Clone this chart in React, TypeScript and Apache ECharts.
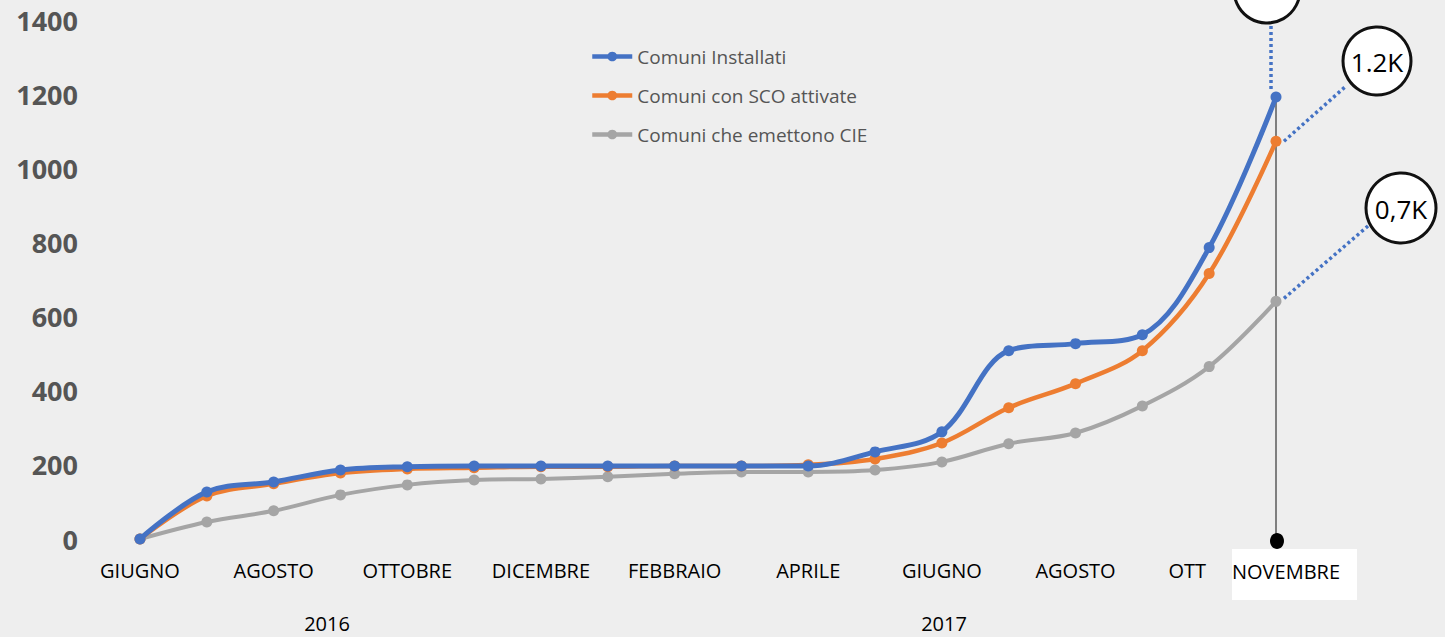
import React, { useEffect, useRef } from "react";
import * as echarts from "echarts";

const months = [
  "GIUGNO", "LUGLIO", "AGOSTO", "SETTEMBRE", "OTTOBRE", "NOVEMBRE", "DICEMBRE", "GENNAIO", "FEBBRAIO",
  "MARZO", "APRILE", "MAGGIO", "GIUGNO", "LUGLIO", "AGOSTO", "SETTEMBRE", "OTT", "NOVEMBRE",
];
const installati = [0, 127, 154, 186, 195, 197, 197, 197, 197, 197, 197, 235, 289, 508, 527, 551, 786, 1192];
const scoAttivate = [0, 116, 149, 178, 189, 192, 195, 195, 197, 197, 200, 216, 259, 354, 419, 508, 716, 1073];
const emettonoCIE = [0, 46, 76, 119, 146, 159, 162, 168, 176, 181, 181, 186, 208, 257, 286, 359, 465, 641];
const seriesNames = ["Comuni Installati", "Comuni con SCO attivate", "Comuni che emettono CIE"];
const colors = ["#4472C4", "#ED7D31", "#A5A5A5"];
const bubbleLabels = ["", "1.2K", "0,7K"];
const yearLabels = ["2016", "2017"];

export default function App() {
  const ref = useRef<HTMLDivElement>(null);
  useEffect(() => {
    document.body.style.margin = "0";
    const chart = echarts.init(ref.current!, null, { renderer: "svg" });
    const mk = (i: number, data: number[], w: number) => ({
      name: seriesNames[i],
      type: "line",
      data,
      smooth: 0.35,
      symbol: "circle",
      symbolSize: 11,
      z: 10 - i,
      lineStyle: { color: colors[i], width: w },
      itemStyle: { color: colors[i] },
    });
    const last = months.length - 1;
    chart.setOption({
      animation: false,
      backgroundColor: "#eeeeee",
      textStyle: { fontFamily: "Open Sans" },
      grid: { left: 140, right: 169, top: 20, bottom: 98 },
      legend: {
        orient: "vertical",
        left: 590,
        top: 47,
        padding: 0,
        itemGap: 20,
        itemWidth: 40,
        itemHeight: 12,
        lineStyle: { width: 4.5 },
        textStyle: { color: "#555", fontSize: 19, fontFamily: "Open Sans" },
        data: seriesNames,
      },
      xAxis: {
        type: "category",
        boundaryGap: false,
        data: months,
        axisLine: { show: false },
        axisTick: { show: false },
        axisLabel: {
          interval: (i: number) => i % 2 === 0,
          color: "#000",
          fontSize: 20,
          margin: 21,
          fontFamily: "Open Sans",
          formatter: (v: string, i: number) => (i === last - 1 ? "{o|" + v + "}" : v),
          rich: { o: { color: "#000", fontSize: 20, fontFamily: "Open Sans", padding: [0, 44, 0, 0] } },
        },
      },
      yAxis: {
        type: "value",
        min: 0,
        max: 1400,
        interval: 200,
        splitLine: { show: false },
        axisLine: { show: false },
        axisTick: { show: false },
        axisLabel: {
          color: "#555",
          fontSize: 27,
          fontWeight: "bold",
          margin: 62,
          fontFamily: "Open Sans",
          formatter: (v: number) => String(v),
        },
      },
      series: [mk(0, installati, 5), mk(1, scoAttivate, 4.5), mk(2, emettonoCIE, 4)],
    });

    const pb = chart.convertToPixel({ seriesIndex: 0 }, [last, installati[last]]) as number[];
    const po = chart.convertToPixel({ seriesIndex: 1 }, [last, scoAttivate[last]]) as number[];
    const pg = chart.convertToPixel({ seriesIndex: 2 }, [last, emettonoCIE[last]]) as number[];
    const p0 = chart.convertToPixel({ seriesIndex: 0 }, [last, 0]) as number[];
    const dot = { stroke: "#4472C4", lineWidth: 3.5, lineDash: [3, 3] };
    const bubble = { fill: "#fff", stroke: "#111", lineWidth: 3 };
    const bubbles = [
      { cx: pb[0] - 9, cy: -10, r: 33 },
      { cx: 1377, cy: 61, r: 34 },
      { cx: 1401, cy: 208, r: 35 },
    ];
    chart.setOption({
      graphic: [
        { type: "rect", z: -10, silent: true, shape: { x: 1232, y: 549, width: 125, height: 51 }, style: { fill: "#fff" } },
        {
          type: "text",
          x: p0[0] + 10,
          y: p0[1] + 32,
          z: 5,
          style: { text: months[last], fill: "#000", fontSize: 20, fontFamily: "Open Sans", align: "center", verticalAlign: "middle" },
        },
        { type: "line", z: 1, shape: { x1: pb[0], y1: pb[1], x2: p0[0], y2: p0[1] }, style: { stroke: "#111", lineWidth: 1 } },
        { type: "ellipse", z: 20, shape: { cx: p0[0] + 1, cy: p0[1] + 2, rx: 7, ry: 8 }, style: { fill: "#000" } },
        { type: "line", z: 15, shape: { x1: pb[0] - 5, y1: pb[1] - 8, x2: pb[0] - 5, y2: 26 }, style: dot },
        { type: "line", z: 15, shape: { x1: po[0] + 8, y1: po[1], x2: 1345, y2: 87 }, style: dot },
        { type: "line", z: 15, shape: { x1: pg[0] + 8, y1: pg[1] - 3, x2: 1368, y2: 226 }, style: dot },
        ...bubbles.map((b, i) => ({
          type: "group",
          z: 30,
          children: [
            { type: "circle", shape: { cx: b.cx, cy: b.cy, r: b.r }, style: bubble },
            {
              type: "text",
              x: b.cx,
              y: b.cy + 1,
              style: { text: bubbleLabels[i], fill: "#000", fontSize: 26, fontFamily: "Open Sans", align: "center", verticalAlign: "middle" },
            },
          ],
        })),
        { type: "text", x: 327, y: 623, z: 5, style: { text: yearLabels[0], fill: "#000", fontSize: 20, fontFamily: "Open Sans", align: "center", verticalAlign: "middle" } },
        { type: "text", x: 944, y: 623, z: 5, style: { text: yearLabels[1], fill: "#000", fontSize: 20, fontFamily: "Open Sans", align: "center", verticalAlign: "middle" } },
      ],
    });
    return () => chart.dispose();
  }, []);
  return <div ref={ref} style={{ width: 1445, height: 637 }} />;
}
